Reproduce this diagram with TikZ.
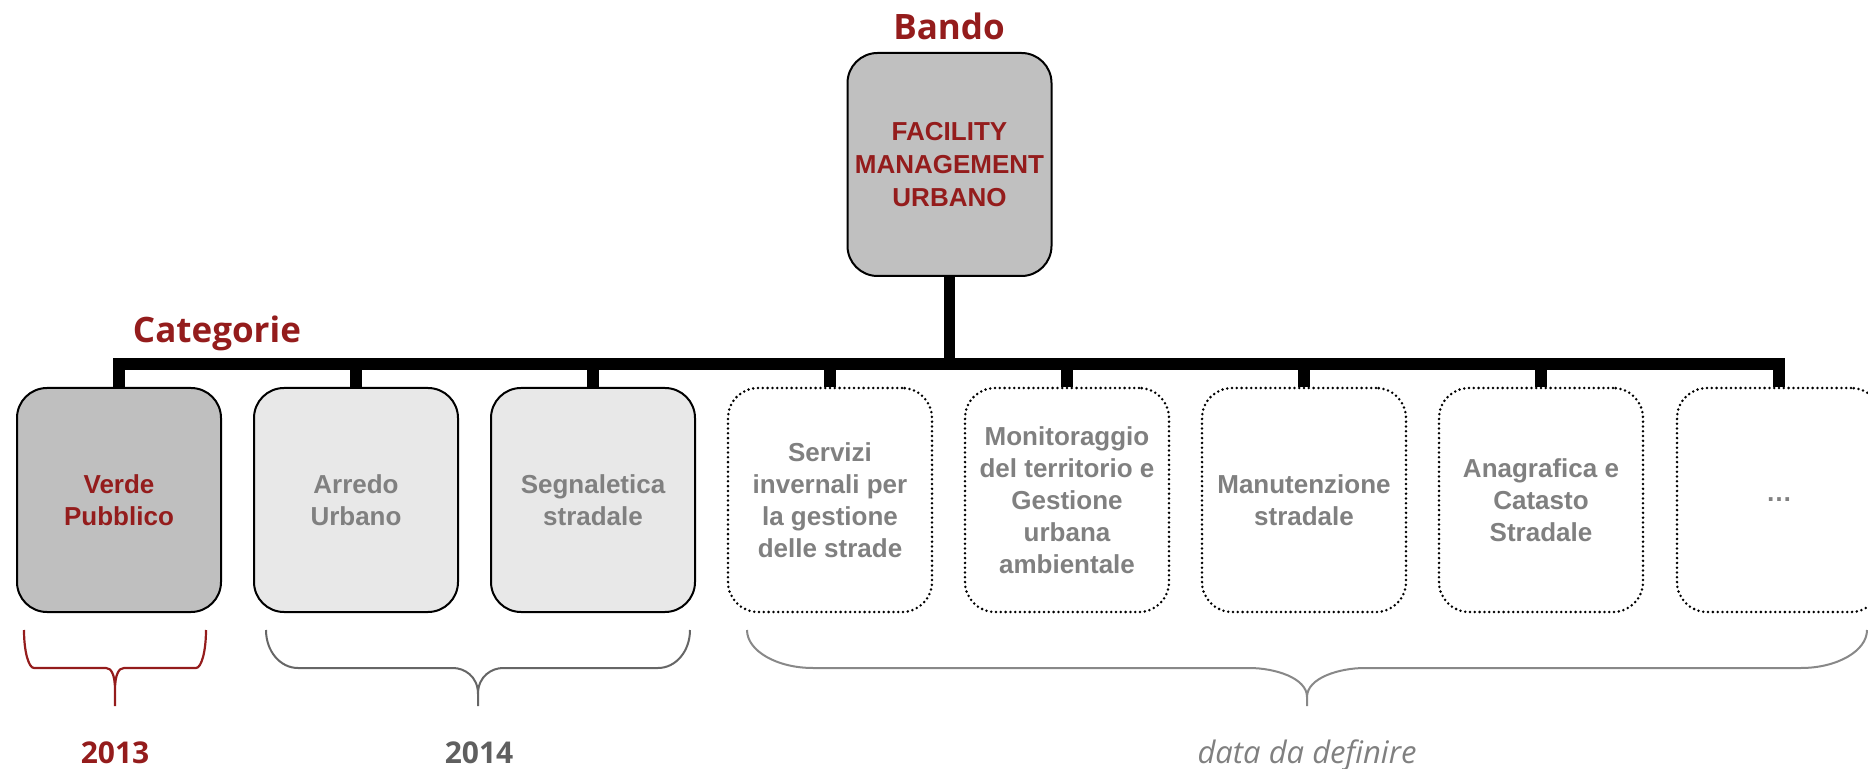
\documentclass[tikz,border=0pt]{standalone}
\usepackage{fontspec}
\setmainfont{Liberation Sans}
\newfontfamily\headfont{Open Sans}
\definecolor{bandored}{RGB}{148,28,28}
\definecolor{textgray}{RGB}{128,128,128}
\definecolor{yeargray}{RGB}{95,95,95}
\definecolor{bracegray}{RGB}{102,102,102}
\definecolor{lightbrace}{RGB}{136,136,136}
\definecolor{topgray}{RGB}{192,192,192}
\definecolor{donegray}{RGB}{191,191,191}
\definecolor{nextgray}{RGB}{232,232,232}

\begin{document}
\begin{tikzpicture}[x=0.5pt,y=-0.5pt,
  catbox/.style={rounded corners=15pt,minimum width=102pt,minimum height=112pt,
    inner sep=0pt,align=center,text=textgray,
    font=\fontsize{13}{16}\selectfont\bfseries},
  donebox/.style={catbox,draw=black,line width=1pt},
  todobox/.style={catbox,draw=black,fill=white,line width=1.4pt,
    dash pattern=on 0pt off 2.4pt,line cap=round},
  trunk/.style={line width=5.75pt},
  title/.style={anchor=base,text=bandored,font=\headfont\bfseries\fontsize{17.5}{20}\selectfont},
  year/.style={anchor=base,font=\headfont\bfseries\fontsize{15}{18}\selectfont}]
  \useasboundingbox (0,0) rectangle (1868,769);
  \clip (0,0) rectangle (1868,769);

  % bando
  \node[donebox,fill=topgray,text=bandored,minimum height=111.5pt,
    font=\fontsize{13}{16.5}\selectfont\bfseries] (bando) at (949.5,164.5)
    {FACILITY\\MANAGEMENT\\URBANO};
  \node[title] (bandolbl) at (949,40) {Bando};
  \node[title] (catlbl) at (217,343) {Categorie};

  % categorie
  \node[donebox,fill=donegray,text=bandored] (verde) at (119,500) {Verde\\Pubblico};
  \node[donebox,fill=nextgray] (arredo) at (356,500) {Arredo\\Urbano};
  \node[donebox,fill=nextgray] (segn) at (593,500) {Segnaletica\\stradale};
  \node[todobox] (servizi) at (830,500) {Servizi\\invernali per\\la gestione\\delle strade};
  \node[todobox] (monit) at (1067,500) {Monitoraggio\\del territorio e\\Gestione\\urbana\\ambientale};
  \node[todobox] (manut) at (1304,500) {Manutenzione\\stradale};
  \node[todobox] (anagr) at (1541,500) {Anagrafica e\\Catasto\\Stradale};
  \node[todobox] (altro) at (1779,500) {\dots};

  % albero
  \coordinate (hub) at (949.5,364);
  \draw[trunk] (bando.south) -- (hub);
  \foreach \c in {verde,arredo,segn,servizi,monit,manut,anagr,altro}
    \draw[trunk] (hub) -| (\c.north);

  % graffe
  \draw[bandored,line width=1.1pt]
    (24,630) .. controls (24,651) and (28.5,668) .. (34,668) -- (106,668)
      .. controls (111,668) and (115,674) .. (115,690) -- (115,706)
    (206,630) .. controls (206,651) and (201.5,668) .. (196,668) -- (124,668)
      .. controls (119,668) and (115,674) .. (115,690);
  \draw[bracegray,line width=1pt]
    (266,630) .. controls (266,651) and (280,668) .. (298,668) -- (453,668)
      .. controls (464,668) and (478,676) .. (478,694) -- (478,706)
    (690,630) .. controls (690,651) and (676,668) .. (658,668) -- (503,668)
      .. controls (492,668) and (478,676) .. (478,694);
  \draw[lightbrace,line width=1pt]
    (747,630) .. controls (747,651) and (777,668) .. (813,668) -- (1249,668)
      .. controls (1275,668) and (1307,678) .. (1307,697) -- (1307,706)
    (1867,630) .. controls (1867,651) and (1837,668) .. (1801,668) -- (1365,668)
      .. controls (1339,668) and (1307,678) .. (1307,697);

  \node[year,text=bandored] (y2013) at (115,763) {2013};
  \node[year,text=yeargray] (y2014) at (479,763) {2014};
  \node[anchor=base,text=textgray,font=\headfont\itshape\fontsize{15.5}{18}\selectfont]
    (ydef) at (1307,763) {data da definire};
\end{tikzpicture}
\end{document}
